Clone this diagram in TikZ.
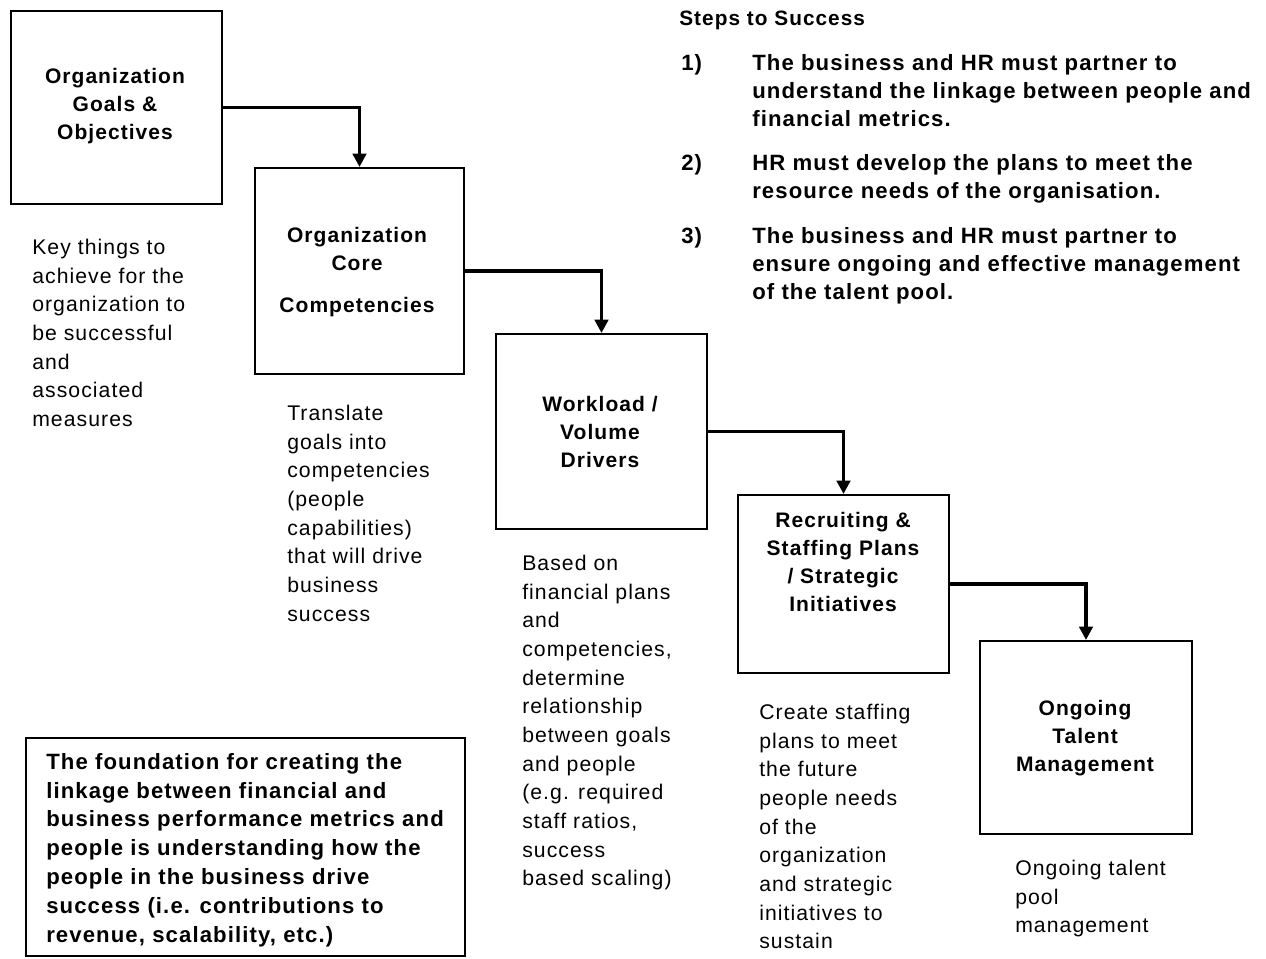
\documentclass[tikz,border=0pt]{standalone}
\usepackage{fontspec}
\setmainfont{Liberation Sans}[LetterSpace=5]
\usetikzlibrary{arrows.meta}

% sizes: one drawing unit is 0.75pt
\newcommand\bodytext{\fontsize{15.9pt}{21.5pt}\selectfont}
\newcommand\boxtext{\fontsize{15.75pt}{21pt}\selectfont\bfseries}
\newcommand\steptext{\fontsize{16.6pt}{21pt}\selectfont\bfseries}

\tikzset{
  stagebox/.style={draw, line width=1.5pt, rectangle, inner sep=0pt, fill=white},
  stagelabel/.style={align=center, inner sep=0pt, font=\boxtext},
  note/.style={anchor=north west, align=left, inner sep=0pt, font=\bodytext},
  flow/.style={line width=2.6pt, -{Triangle[length=10pt,width=10pt]}},
}

\begin{document}
\begin{tikzpicture}[x=0.75pt, y=-0.75pt]
\useasboundingbox[fill=white] (0,0) rectangle (1266,958);

% stage boxes
\node[stagebox, minimum width={211*0.75pt}, minimum height={193*0.75pt}] (b1) at (116.5,107.5) {};
\node[stagebox, minimum width={209*0.75pt}, minimum height={206*0.75pt}] (b2) at (359.5,271) {};
\node[stagebox, minimum width={211*0.75pt}, minimum height={195*0.75pt}] (b3) at (601.5,431.5) {};
\node[stagebox, minimum width={211*0.75pt}, minimum height={178*0.75pt}] (b4) at (843.5,584) {};
\node[stagebox, minimum width={212*0.75pt}, minimum height={193*0.75pt}] (b5) at (1086,737.5) {};

% stage titles
\node[stagelabel] (t1) at (115,106) {Organization\\Goals \&\\Objectives};
\node[stagelabel] (t2) at (357,272) {Organization\\Core\\[10.5pt]Competencies};
\node[stagelabel] (t3) at (600,432) {Workload /\\Volume\\Drivers};
\node[stagelabel] (t4) at (843,562) {Recruiting \&\\Staffing Plans\\/ Strategic\\Initiatives};
\node[stagelabel] (t5) at (1085,738) {Ongoing\\Talent\\Management};

% connectors
\draw[flow] (b1.east) -| (b2.north);
\draw[flow] (b2.east) -| (b3.north);
\draw[flow] (b3.east) -| (b4.north);
\draw[flow] (b4.east) -| (b5.north);

% notes under each stage
\node[note] (n1) at (32,239) {Key things to\\achieve for the\\organization to\\be successful\\and\\associated\\measures};
\node[note] (n2) at (287,405) {Translate\\goals into\\competencies\\(people\\capabilities)\\that will drive\\business\\success};
\node[note] (n3) at (522,555) {Based on\\financial plans\\and\\competencies,\\determine\\relationship\\between goals\\and people\\(e.g. required\\staff ratios,\\success\\based scaling)};
\node[note] (n4) at (759,704) {Create staffing\\plans to meet\\the future\\people needs\\of the\\organization\\and strategic\\initiatives to\\sustain};
\node[note] (n5) at (1015,860) {Ongoing talent\\pool\\management};

% steps to success
\node[anchor=base west, inner sep=0pt, font=\fontsize{15.6pt}{18pt}\selectfont\bfseries] (st) at (679,25) {Steps to Success};
\node[anchor=base west, inner sep=0pt, font=\steptext] (k1) at (681,70) {1)};
\node[anchor=base west, inner sep=0pt, font=\steptext] (k2) at (681,170) {2)};
\node[anchor=base west, inner sep=0pt, font=\steptext] (k3) at (681,243) {3)};
\node[anchor=north west, align=left, inner sep=0pt, font=\steptext] (s1) at (752,54) {The business and HR must partner to\\understand the linkage between people and\\financial metrics.};
\node[anchor=north west, align=left, inner sep=0pt, font=\steptext] (s2) at (752,154) {HR must develop the plans to meet the\\resource needs of the organisation.};
\node[anchor=north west, align=left, inner sep=0pt, font=\steptext] (s3) at (752,227) {The business and HR must partner to\\ensure ongoing and effective management\\of the talent pool.};

% foundation statement
\node[stagebox, minimum width={439*0.75pt}, minimum height={218*0.75pt}] (fb) at (245.5,847) {};
\node[anchor=north west, align=left, inner sep=0pt, font=\fontsize{16.6pt}{21.6pt}\selectfont\bfseries] (ft) at (46,753) {The foundation for creating the\\linkage between financial and\\business performance metrics and\\people is understanding how the\\people in the business drive\\success (i.e. contributions to\\revenue, scalability, etc.)};
\end{tikzpicture}
\end{document}
